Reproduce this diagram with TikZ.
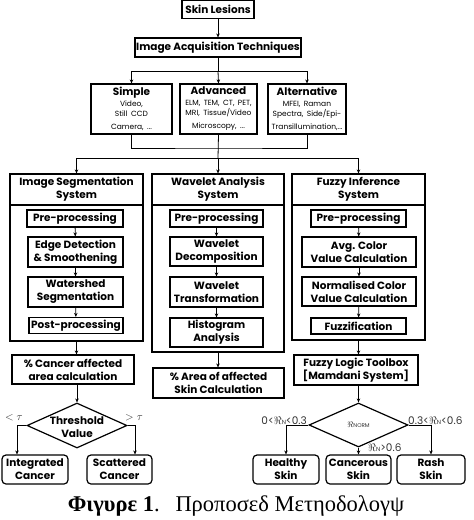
\documentclass[tikz,border=0pt]{standalone}
\usepackage{fontspec}
\setmainfont{Poppins}
\newfontfamily\capfont{Liberation Serif}
\usetikzlibrary{shapes.geometric,arrows.meta}
\newcommand\smtxt{\mdseries\fontsize{7.5}{10.5}\selectfont}
\begin{document}
\begin{tikzpicture}[x=1pt,y=-1pt,
  bx/.style={draw,line width=1.2pt,inner sep=0pt,align=center,font=\bfseries\fontsize{10.5}{13}\selectfont},
  rbx/.style={bx,rounded corners=4pt},
  frm/.style={draw,line width=1.2pt,inner sep=0pt},
  dia/.style={draw,diamond,line width=1.2pt,inner sep=0pt},
  arr/.style={-{Stealth[length=4pt,width=3.5pt]},line width=0.8pt},
  ln/.style={line width=0.8pt},
  lbl/.style={inner sep=0pt,font=\fontsize{10.5}{12}\selectfont,text=black!80}]
\useasboundingbox (0,0) rectangle (474,520);
% top
\node[bx,minimum width=72,minimum height=18] (skin) at (218,9.5) {Skin Lesions};
\node[bx,minimum width=166,minimum height=19] (iat) at (218,47.5) {Image Acquisition Techniques};
\node[bx,minimum width=81,minimum height=50,text width=78] (simple) at (131.5,109) {Simple\par{\smtxt Video,\par Still CCD\par Camera, ...}};
\node[bx,minimum width=77,minimum height=50,text width=76] (adv) at (218.5,109) {Advanced\par{\smtxt ELM, TEM, CT, PET,\par MRI, Tissue/Video\par Microscopy, ...}};
\node[bx,minimum width=78,minimum height=50,text width=77] (alt) at (307,109) {Alternative\par{\smtxt MFEI, Raman\par Spectra, Side/Epi-\par Transillumination,...}};
\coordinate (j1) at (218,71);
\coordinate (j2) at (218,148);
\coordinate (j3) at (218,158);
\draw[arr] (skin) -- (iat);
\draw[ln] (iat.south) -- (j1);
\draw[arr] (j1) -- (adv.north);
\draw[arr] (j1) -| (simple.north);
\draw[arr] (j1) -| (alt.north);
\draw[ln] (simple.south) |- (j2) -| (alt.south);
\draw[ln] (adv.south) -- (j3);
% columns
\node[frm,minimum width=133,minimum height=167] (segf) at (76.5,257.5) {};
\node[bx,minimum width=133,minimum height=31] (segt) at (76.5,189.5) {Image Segmentation\\System};
\node[frm,minimum width=132,minimum height=178] (wavf) at (218,263) {};
\node[bx,minimum width=132,minimum height=31] (wavt) at (218,189.5) {Wavelet Analysis\\System};
\node[frm,minimum width=133,minimum height=166] (fuzf) at (358.5,257) {};
\node[bx,minimum width=133,minimum height=31] (fuzt) at (358.5,189.5) {Fuzzy Inference\\System};
\draw[arr] (j3) -| (segt.north);
\draw[arr] (j3) -- (wavt.north);
\draw[arr] (j3) -| (fuzt.north);
% seg inner
\node[bx,minimum width=96,minimum height=17] (s1) at (75,218.5) {Pre-processing};
\node[bx,minimum width=95,minimum height=30] (s2) at (75.5,252) {Edge Detection\\\& Smoothening};
\node[bx,minimum width=95,minimum height=30] (s3) at (75.5,292) {Watershed\\Segmentation};
\node[bx,minimum width=94,minimum height=16] (s4) at (76,325.5) {Post-processing};
\draw[arr] (s1) -- (s2);
\draw[arr] (s2) -- (s3);
\draw[arr] (s3) -- (s4);
% wavelet inner
\node[bx,minimum width=93,minimum height=17] (w1) at (216.5,218.5) {Pre-processing};
\node[bx,minimum width=93,minimum height=29] (w2) at (216.5,251.5) {Wavelet\\Decomposition};
\node[bx,minimum width=93,minimum height=30] (w3) at (216.5,292) {Wavelet\\Transformation};
\node[bx,minimum width=93,minimum height=29] (w4) at (216.5,332.5) {Histogram\\Analysis};
\draw[arr] (w1) -- (w2);
\draw[arr] (w2) -- (w3);
\draw[arr] (w3) -- (w4);
% fuzzy inner
\node[bx,minimum width=95,minimum height=17] (f1) at (358.5,218.5) {Pre-processing};
\node[bx,minimum width=114,minimum height=30] (f2) at (359,252) {Avg. Color\\Value Calculation};
\node[bx,minimum width=114,minimum height=29] (f3) at (359,291.5) {Normalised Color\\Value Calculation};
\node[bx,minimum width=95,minimum height=16] (f4) at (358.5,326) {Fuzzification};
\draw[arr] (f1) -- (f2);
\draw[arr] (f2) -- (f3);
\draw[arr] (f3) -- (f4);
% lower left
\node[bx,minimum width=122,minimum height=29] (cancer) at (73,369.5) {\% Cancer affected\\area calculation};
\draw[arr] (segf.south) -- (segf.south |- cancer.north);
\node[dia,minimum width=100,minimum height=45] (d1) at (77,425.5) {};
\node[inner sep=0pt,align=center,font=\bfseries\fontsize{10.5}{13}\selectfont] (d1t) at (77,427) {Threshold\\Value};
\draw[arr] (cancer.south -| d1.north) -- (d1.north);
\node[rbx,minimum width=66,minimum height=29] (integ) at (35,469.5) {Integrated\\Cancer};
\node[rbx,minimum width=65,minimum height=29] (scat) at (119.5,469.5) {Scattered\\Cancer};
\draw[arr] (d1.west) -| ([xshift=-18pt]integ.north);
\draw[arr] (d1.east) -| ([xshift=15.5pt]scat.north);
\node[lbl] (lt) at (14,418) {$<\tau$};
\node[lbl] (gt) at (134,418) {$>\tau$};
% middle
\node[bx,minimum width=131,minimum height=30] (area) at (218.5,383) {\% Area of affected\\Skin Calculation};
\draw[arr] (wavf.south) -- (wavf.south |- area.north);
% lower right
\node[bx,minimum width=124,minimum height=30] (fl) at (356,370) {Fuzzy Logic Toolbox\\{[}Mamdani System{]}};
\draw[arr] (fuzf.south) -- (fuzf.south |- fl.north);
\node[dia,minimum width=99,minimum height=44] (d2) at (358.5,425) {};
\node[inner sep=0pt,font=\fontsize{8.5}{10}\selectfont,text=black!80] (d2t) at (358.5,425) {$\Re$\fontsize{5.5}{7}\selectfont NORM};
\draw[arr] (fl.south -| d2.north) -- (d2.north);
\node[rbx,minimum width=66,minimum height=29] (heal) at (286,469.5) {Healthy\\Skin};
\node[rbx,minimum width=65,minimum height=29] (canc) at (358.5,469.5) {Cancerous\\Skin};
\node[rbx,minimum width=68,minimum height=29] (rash) at (431,469.5) {Rash\\Skin};
\draw[arr] (d2.west) -| (heal.north);
\draw[arr] (d2.east) -| (rash.north);
\draw[arr] (d2.south) -- (canc.north);
\node[lbl,anchor=south east] (l1) at (307,425) {0<$\Re${\fontsize{6}{7}\selectfont N}<0.3};
\node[lbl,anchor=south west] (l2) at (408,425) {0.3<$\Re${\fontsize{6}{7}\selectfont N}<0.6};
\node[lbl,anchor=south west] (l3) at (368,452) {$\Re${\fontsize{6}{7}\selectfont N}>0.6};
% caption
\node[inner sep=0pt,anchor=base,font=\capfont\fontsize{22.5}{25}\selectfont] (cap) at (236,511) {\textbf{Φιγυρε 1}.\hspace{0.7em}Προποσεδ Μετηοδολογψ};
\end{tikzpicture}
\end{document}
